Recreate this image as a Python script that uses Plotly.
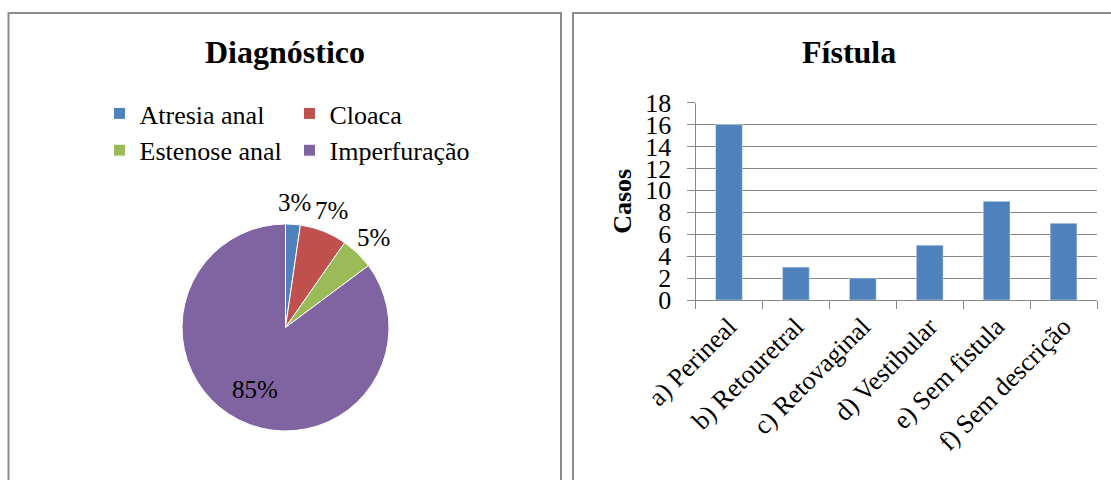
import math
import plotly.graph_objects as go

# ---- data ----
diag_labels = ["Atresia anal", "Cloaca", "Estenose anal", "Imperfuração"]
diag_values = [2.3, 7.4, 5.1, 85.2]
diag_text = ["3%", "7%", "5%", "85%"]
diag_colors = ["#4F81BD", "#C0504D", "#9BBB59", "#8064A2"]

fist_categories = ["a) Perineal", "b) Retouretral", "c) Retovaginal",
                   "d) Vestibular", "e) Sem fistula", "f) Sem descrição"]
fist_values = [16, 3, 2, 5, 9, 7]
y_ticks = [0, 2, 4, 6, 8, 10, 12, 14, 16, 18]

W, H = 1111, 480
ML = 100
GW = W - ML
FONT = "Liberation Serif"
GRAY = "#878787"


def px(x):
    return (x - ML) / GW


def py(y):
    return (H - y) / H


# pie geometry (pixels)
PCX, PCY, PR = 285.5, 327.5, 103.5

fig = go.Figure()

fig.add_trace(go.Pie(
    labels=diag_labels, values=diag_values, text=diag_text,
    textinfo="none", sort=False, direction="clockwise", rotation=0,
    marker=dict(colors=diag_colors, line=dict(color="white", width=1)),
    domain=dict(x=[px(PCX - PR), px(PCX + PR)], y=[py(PCY + PR), py(PCY - PR)]),
    showlegend=True,
))

fig.add_trace(go.Bar(
    x=fist_categories, y=fist_values, marker_color="#4F81BD",
    xaxis="x", yaxis="y", showlegend=False,
))

# data labels of the pie, placed along each slice's mid-angle
annotations = []
total = sum(diag_values)
cum = 0.0
for v, t in zip(diag_values, diag_text):
    mid = math.radians((cum + v / 2) / total * 360)
    cum += v
    f = 0.667 if v / total > 0.5 else 1.215
    lx = PCX + math.sin(mid) * f * PR
    ly = PCY - math.cos(mid) * f * PR
    annotations.append(dict(
        text=t, x=px(lx), y=py(ly), xref="paper", yref="paper",
        xanchor="center", yanchor="middle", showarrow=False,
        font=dict(family=FONT, size=25, color="black")))

annotations += [
    dict(text="Diagnóstico", x=px(285), y=py(52), xref="paper", yref="paper",
         xanchor="center", yanchor="middle", showarrow=False,
         font=dict(family=FONT, size=32, color="black", weight="bold")),
    dict(text="Fístula", x=px(849), y=py(52), xref="paper", yref="paper",
         xanchor="center", yanchor="middle", showarrow=False,
         font=dict(family=FONT, size=32, color="black", weight="bold")),
]

fig.update_layout(
    width=W, height=H,
    margin=dict(l=ML, r=0, t=0, b=0, autoexpand=False),
    paper_bgcolor="white", plot_bgcolor="white",
    font=dict(family=FONT, size=26, color="black"),
    bargap=0.6,
    legend=dict(
        orientation="h", x=-0.0005, xanchor="left",
        y=py(90), yanchor="top",
        entrywidth=145, font=dict(family=FONT, size=26, color="black"),
        bgcolor="rgba(0,0,0,0)", borderwidth=0,
    ),
    xaxis=dict(
        domain=[px(695.5), px(1097)], anchor="y",
        showline=True, linecolor=GRAY, linewidth=1,
        ticks="outside", ticklen=8, tickcolor=GRAY, tickson="boundaries",
        tickangle=-45, showgrid=False,
        tickfont=dict(family=FONT, size=26, color="black"),
    ),
    yaxis=dict(
        domain=[py(300), py(102.7)], anchor="x",
        range=[0, 18], tickvals=y_ticks,
        showline=True, linecolor=GRAY, linewidth=1,
        ticks="outside", ticklen=8, tickcolor=GRAY,
        showgrid=True, gridcolor=GRAY, gridwidth=1, zeroline=False,
        tickfont=dict(family=FONT, size=26, color="black"),
        ticklabelstandoff=10,
        title=dict(text="Casos", standoff=6,
                   font=dict(family=FONT, size=26, color="black", weight="bold")),
    ),
    annotations=annotations,
    shapes=[
        dict(type="rect", xref="paper", yref="paper",
             x0=px(8.5), x1=px(561), y0=py(495), y1=py(13),
             line=dict(color="#8c8c8c", width=2), layer="below"),
        dict(type="rect", xref="paper", yref="paper",
             x0=px(573), x1=px(1125), y0=py(495), y1=py(13),
             line=dict(color="#8c8c8c", width=2), layer="below"),
    ],
)

fig.write_html("out.html")
